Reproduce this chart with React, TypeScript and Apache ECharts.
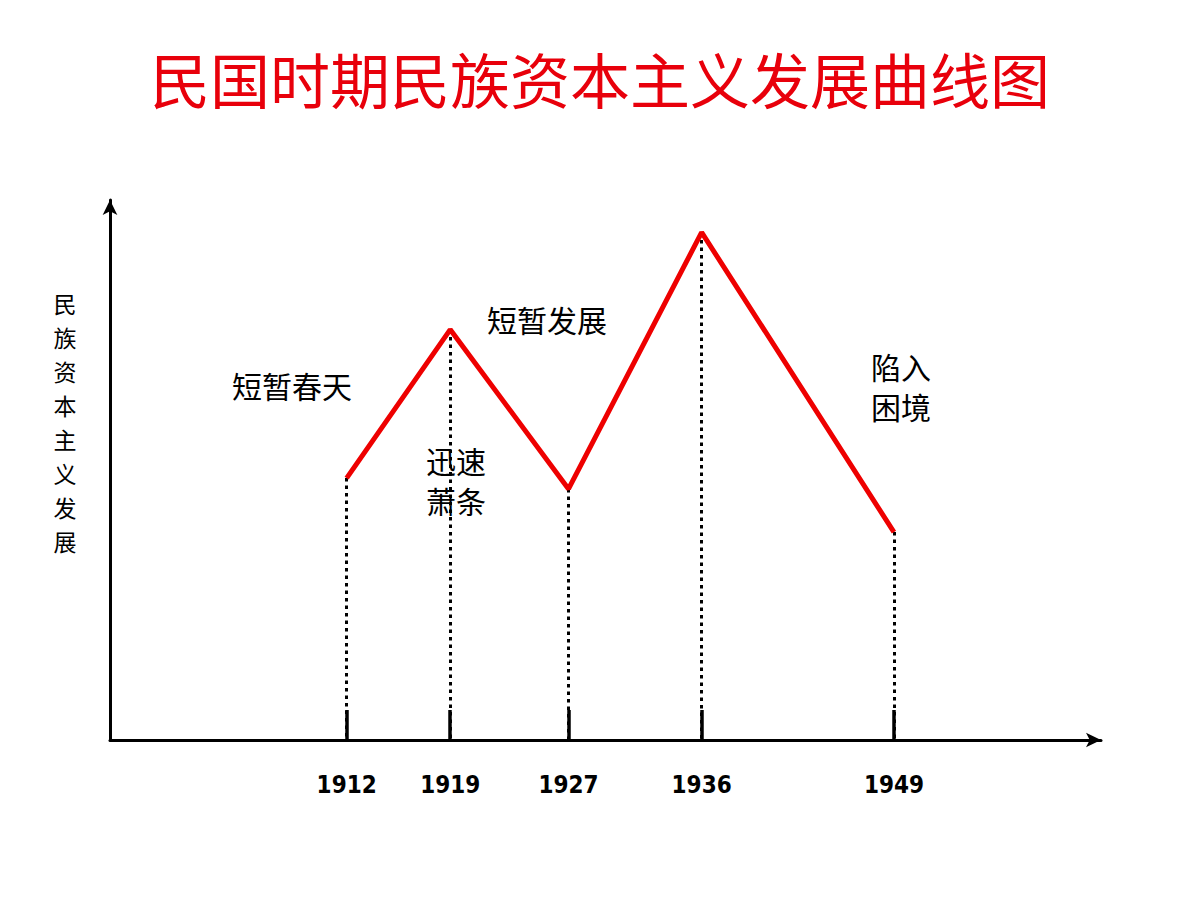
import React, { useEffect, useRef } from "react";
import * as echarts from "echarts";

const TITLE = "民国时期民族资本主义发展曲线图";
const Y_NAME = "民族资本主义发展";
const years = [1912, 1919, 1927, 1936, 1949];
const levels = [48.5, 76, 46.5, 94, 38.5];
const notes = ["短暂春天", "迅速\n萧条", "短暂发展", "陷入\n困境"];

const CJK = '"Noto Sans CJK SC", "Noto Sans", sans-serif';

export default function App() {
  const ref = useRef<HTMLDivElement>(null);
  useEffect(() => {
    document.body.style.margin = "0";
    const chart = echarts.init(ref.current!, null, { renderer: "svg" });
    const points = years.map((y, i) => [y, levels[i]]);
    const notePos = [
      [292, 385],
      [456, 480],
      [547, 319],
      [901, 386],
    ];
    chart.setOption({
      animation: false,
      backgroundColor: "#ffffff",
      title: {
        text: TITLE,
        left: "center",
        top: 42,
        textStyle: {
          color: "#e8000b",
          fontSize: 60,
          fontWeight: "normal",
          fontFamily: CJK,
          lineHeight: 60,
        },
      },
      grid: { left: 110, right: 99, top: 200, bottom: 160 },
      xAxis: {
        type: "value",
        min: 1896,
        max: 1963,
        splitLine: { show: false },
        axisLine: {
          lineStyle: { color: "#000", width: 3 },
          symbol: ["none", "arrow"],
          symbolSize: [11, 15],
        },
        axisTick: {
          show: true,
          inside: true,
          length: 30,
          customValues: years,
          lineStyle: { color: "#000", width: 3.5 },
        },
        axisLabel: {
          show: true,
          customValues: years,
          margin: 33,
          color: "#000",
          fontSize: 24,
          fontWeight: "bold",
          fontFamily: '"DejaVu Sans Condensed", "DejaVu Sans", sans-serif',
          formatter: (v: number) => String(v),
        },
      },
      yAxis: {
        type: "value",
        min: 0,
        max: 100,
        splitLine: { show: false },
        axisTick: { show: false },
        axisLabel: { show: false },
        axisLine: {
          show: true,
          lineStyle: { color: "#000", width: 3 },
          symbol: ["none", "arrow"],
          symbolSize: [11, 15],
        },
      },
      series: [
        {
          type: "line",
          data: [],
          z: 1,
          markLine: {
            silent: true,
            symbol: ["none", "none"],
            label: { show: false },
            lineStyle: { color: "#000", width: 3, type: [3.5, 4] },
            data: points.map((p) => [
              { coord: [p[0], p[1]] },
              { coord: [p[0], 0] },
            ]),
          },
        },
        {
          type: "line",
          data: points,
          z: 5,
          symbol: "none",
          lineStyle: { color: "#ee0000", width: 5 },
        },
      ],
      graphic: [
        ...Y_NAME.split("").map((ch, i) => ({
          type: "text",
          x: 65,
          y: 303 + i * 34,
          style: {
            text: ch,
            fontSize: 23,
            fontFamily: CJK,
            fill: "#000",
            textAlign: "center",
            textVerticalAlign: "middle",
          },
        })),
        ...notes.map((t, i) => ({
          type: "text",
          x: notePos[i][0],
          y: notePos[i][1],
          style: {
            text: t,
            fontSize: 30,
            lineHeight: 40,
            fontFamily: CJK,
            fill: "#000",
            textAlign: "center",
            textVerticalAlign: "middle",
          },
        })),
      ],
    });
    return () => chart.dispose();
  }, []);
  return <div ref={ref} style={{ width: 1200, height: 900 }} />;
}
